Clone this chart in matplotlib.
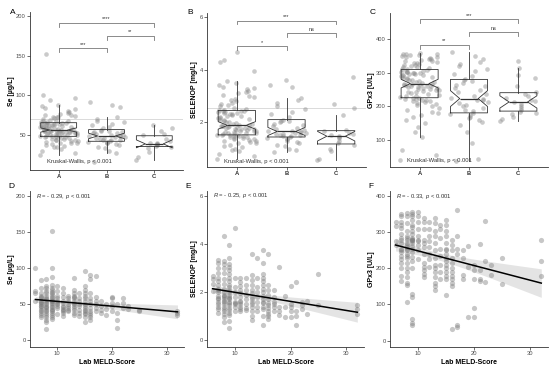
import numpy as np
import matplotlib
matplotlib.use('Agg')
import matplotlib.pyplot as plt

plt.rcParams['font.family'] = ['Liberation Sans', 'DejaVu Sans']
plt.rcParams['mathtext.fontset'] = 'custom'
plt.rcParams['mathtext.it'] = 'Liberation Sans:italic'
plt.rcParams['mathtext.rm'] = 'Liberation Sans'

# ---- top row: values per group (A, B, C) ----
groups = ['A', 'B', 'C']

se_a = [25, 27, 30, 32, 34, 35, 36, 37, 38, 39, 40, 40, 41, 42, 42, 43, 44, 44, 45, 45, 46, 46, 47, 47, 47, 48,
        48, 48, 49, 49, 50, 50, 50, 51, 51, 51, 52, 52, 52, 53, 53, 53, 54, 54, 54, 54, 55, 55, 55, 55, 55, 56,
        56, 56, 57, 57, 57, 58, 58, 58, 59, 59, 60, 60, 60, 61, 61, 62, 62, 62, 63, 63, 63, 64, 64, 65, 65, 65,
        66, 66, 67, 68, 68, 69, 70, 71, 72, 72, 73, 74, 75, 75, 76, 78, 79, 80, 82, 84, 86, 88, 94, 97, 100, 152]
se_b = [15, 27, 30, 33, 35, 37, 38, 39, 40, 41, 41, 42, 43, 44, 44, 45, 46, 46, 47, 47, 48, 48, 49,
        50, 50, 51, 52, 52, 53, 54, 55, 55, 56, 58, 60, 62, 64, 66, 68, 70, 73, 85, 88, 91]
se_c = [18, 22, 28, 33, 35, 36, 37, 38, 38, 39, 40, 42, 45, 50, 51, 55, 59, 62]

sel_a = [0.6, 0.7, 0.8, 0.9, 0.95, 1.0, 1.05, 1.1, 1.15, 1.2, 1.22, 1.25, 1.28, 1.3, 1.32, 1.35, 1.38, 1.4,
         1.42, 1.44, 1.45, 1.46, 1.48, 1.49, 1.5, 1.5,
         1.52, 1.53, 1.55, 1.56, 1.58, 1.6, 1.61, 1.62, 1.64, 1.65, 1.67, 1.68, 1.7, 1.72, 1.73, 1.75, 1.76,
         1.78, 1.8, 1.8, 1.82, 1.83, 1.84, 1.85, 1.86, 1.87,
         1.88, 1.9, 1.92, 1.95, 1.98, 2.0, 2.02, 2.05, 2.08, 2.1, 2.12, 2.15, 2.18, 2.2, 2.22, 2.25, 2.27, 2.3,
         2.32, 2.34, 2.36, 2.38, 2.4, 2.41, 2.42, 2.43,
         2.45, 2.48, 2.5, 2.55, 2.6, 2.65, 2.7, 2.75, 2.8, 2.85, 2.9, 2.95, 3.0, 3.05, 3.1, 3.15, 3.2, 3.25,
         3.3, 3.35, 3.42, 3.5, 3.58, 3.95, 4.3, 4.35, 4.65]
sel_b = [0.86, 0.95, 1.0, 1.1, 1.15, 1.2, 1.25, 1.3, 1.35, 1.38, 1.42, 1.44, 1.46, 1.48, 1.5, 1.52, 1.54,
         1.56, 1.58, 1.6, 1.62, 1.63, 1.65, 1.68, 1.7, 1.75, 1.8, 1.85, 1.9, 1.95, 2.0, 2.03, 2.05,
         2.1, 2.2, 2.3, 2.4, 2.5, 2.6, 2.75, 2.85, 2.93, 3.35, 3.4, 3.6]
sel_c = [0.58, 0.62, 0.9, 1.0, 1.15, 1.2, 1.3, 1.4, 1.45, 1.47, 1.5, 1.55, 1.6, 1.66, 1.7, 2.28, 2.55, 2.7, 3.72]

gpx_a = [40, 55, 70, 108, 125, 140, 150, 160, 170, 175, 180, 185, 190, 195, 200, 205, 208, 210, 213, 215,
         217, 219, 220, 222, 223, 224,
         226, 228, 230, 232, 235, 238, 240, 242, 244, 246, 248, 250, 252, 253, 255, 256, 258, 259, 260, 261,
         262, 263, 264, 265, 266, 267,
         268, 270, 272, 274, 276, 278, 280, 282, 284, 286, 288, 290, 292, 294, 295, 296, 298, 299, 300, 301,
         302, 303, 304, 305, 306, 308,
         310, 312, 314, 316, 318, 320, 322, 324, 326, 328, 330, 332, 334, 336, 338, 340, 342, 344, 346, 348,
         350, 352, 354, 355, 356, 357, 358]
gpx_b = [38, 45, 90, 125, 145, 155, 160, 165, 170, 175, 178, 182, 186, 190, 195, 200, 205, 210, 214, 218,
         220, 222, 225, 230, 236, 242, 248, 254, 260, 265, 270, 275, 280, 282, 290, 298, 305, 312, 320, 326,
         332, 340, 350, 362]
gpx_c = [158, 162, 170, 178, 182, 185, 190, 196, 202, 208, 212, 215, 220, 225, 232, 238, 242, 260, 285,
         295, 315, 335]

# ---- bottom row: Lab MELD-Score vs. marker (same patients) ----
meld = [6, 6, 6, 6,
        7, 7, 7, 7, 7, 7, 7, 7, 7, 7, 7, 7, 7, 7, 7, 7, 7, 7,
        8, 8, 8, 8, 8, 8, 8, 8, 8, 8, 8, 8, 8, 8, 8, 8, 8, 8, 8, 8, 8, 8,
        9, 9, 9, 9, 9, 9, 9, 9, 9, 9, 9, 9, 9, 9, 9, 9, 9, 9, 9, 9, 9, 9, 9, 9, 9,
        10, 10, 10, 10, 10, 10, 10, 10, 10, 10,
        11, 11, 11, 11, 11, 11, 11, 11, 11, 11, 11, 11,
        12, 12, 12, 12, 12, 12, 12, 12,
        13, 13, 13, 13, 13, 13, 13, 13, 13, 13, 13, 13, 13, 13,
        14, 14, 14, 14, 14, 14, 14, 14,
        15, 15, 15, 15, 15, 15, 15, 15, 15, 15, 15, 15, 15, 15, 15, 15,
        16, 16, 16, 16, 16, 16, 16, 16, 16, 16, 16, 16,
        17, 17, 17, 17, 17, 17,
        18, 18, 18, 18,
        19, 19, 19,
        20, 20, 20, 20, 20,
        21, 21, 21, 21,
        22, 22, 22,
        23, 23,
        25, 25,
        32, 32, 32]
se_meld = [100, 68, 65, 55,
           83, 72, 65, 60, 55, 52, 50, 48, 45, 42, 40, 38, 35, 32, 58, 62, 47, 53,
           85, 75, 72, 68, 65, 62, 58, 55, 52, 50, 48, 45, 42, 40, 38, 35, 32, 28, 25, 15, 57, 46,
           152, 100, 88, 77, 72, 70, 67, 65, 63, 60, 58, 56, 54, 52, 50, 48, 46, 44, 42, 40, 38, 35, 32, 30, 55,
           75, 68, 62, 58, 55, 52, 50, 48, 45, 36,
           72, 65, 60, 55, 52, 48, 46, 44, 42, 40, 38, 33,
           62, 58, 55, 50, 48, 45, 42, 40,
           87, 70, 65, 62, 60, 58, 55, 52, 50, 48, 45, 42, 38, 35,
           65, 58, 55, 50, 47, 42, 38, 33,
           96, 75, 70, 65, 62, 58, 55, 50, 45, 42, 40, 38, 36, 32, 25, 48,
           91, 85, 65, 58, 55, 50, 45, 40, 38, 35, 32, 28,
           89, 60, 55, 50, 45, 40,
           55, 48, 42, 38,
           50, 44, 35,
           60, 58, 52, 48, 40,
           50, 38, 28, 17,
           58, 52, 45,
           47, 44,
           42, 40,
           41, 38, 35]
sel_meld = [2.65, 2.55, 2.35, 2.05,
            3.35, 3.2, 3.0, 2.8, 2.6, 2.45, 2.3, 2.15, 2.0, 1.85, 1.7, 1.6, 1.5, 1.4, 1.3, 1.15, 1.75, 2.1,
            4.35, 3.3, 3.15, 3.0, 2.8, 2.55, 2.35, 2.15, 2.0, 1.9, 1.8, 1.7, 1.6, 1.5, 1.4, 1.3, 1.2, 1.1, 0.95,
            0.75, 1.65, 1.85,
            3.95, 3.4, 3.15, 3.05, 2.9, 2.75, 2.6, 2.45, 2.3, 2.2, 2.1, 2.0, 1.9, 1.8, 1.7, 1.6, 1.55, 1.45, 1.35,
            1.25, 1.15, 1.05, 0.8, 0.5, 1.75,
            4.65, 2.6, 2.2, 2.0, 1.8, 1.6, 1.5, 1.4, 1.2, 1.55,
            2.6, 2.4, 2.25, 2.1, 1.95, 1.8, 1.65, 1.5, 1.4, 1.3, 1.2, 1.6,
            2.6, 2.3, 2.1, 1.9, 1.7, 1.5, 1.35, 1.25,
            3.6, 2.7, 2.5, 2.3, 2.1, 1.95, 1.8, 1.7, 1.6, 1.5, 1.4, 1.2, 1.0, 0.85,
            3.4, 2.6, 2.2, 2.0, 1.8, 1.6, 1.4, 1.2,
            3.75, 3.2, 2.75, 2.6, 2.45, 2.3, 2.15, 2.0, 1.85, 1.7, 1.55, 1.4, 1.3, 1.0, 0.65, 1.6,
            3.6, 2.3, 2.1, 1.9, 1.7, 1.55, 1.45, 1.35, 1.2, 1.1, 1.0, 0.9,
            2.1, 1.8, 1.6, 1.4, 1.2, 1.5,
            3.05, 1.4, 1.2, 1.05,
            1.85, 1.4, 0.95,
            2.25, 1.5, 1.4, 1.2, 0.95,
            2.4, 1.2, 1.0, 0.65,
            1.6, 1.45, 1.3,
            1.65, 1.1,
            2.75, 1.45,
            1.45, 1.3, 1.1]
gpx_meld = [330, 318, 275, 265,
            352, 345, 330, 312, 295, 280, 270, 255, 245, 235, 225, 215, 200, 180, 165, 320, 285, 250,
            355, 345, 325, 305, 290, 280, 270, 260, 250, 240, 235, 228, 215, 200, 190, 175, 160, 155, 108, 285,
            265, 255,
            358, 352, 345, 335, 320, 305, 295, 285, 280, 278, 275, 270, 262, 255, 245, 232, 220, 200, 130, 120,
            60, 50, 42, 282, 315,
            357, 345, 330, 310, 290, 275, 265, 250, 225, 280,
            340, 328, 310, 280, 260, 240, 215, 205, 195, 185, 175, 270,
            330, 310, 290, 275, 260, 240, 225, 205,
            340, 325, 305, 290, 270, 250, 230, 210, 200, 190, 175, 160, 150, 140,
            320, 310, 285, 255, 235, 210, 190, 170,
            335, 320, 305, 290, 270, 255, 240, 230, 220, 210, 200, 190, 180, 170, 125, 250,
            280, 265, 250, 230, 215, 200, 190, 180, 170, 160, 150, 32,
            362, 290, 255, 240, 42, 38,
            251, 228, 181, 172,
            262, 205, 65,
            209, 195, 172, 91, 65,
            269, 195, 172, 165,
            332, 221, 163,
            209, 181,
            228, 157,
            279, 220, 180]

W, H = 550, 367
fig = plt.figure(figsize=(5.5, 3.67), dpi=100)


def add_ax(l, r, t, b):
    return fig.add_axes([l / W, 1 - b / H, (r - l) / W, (b - t) / H])


def style(ax):
    for s in ['top', 'right']:
        ax.spines[s].set_visible(False)
    for s in ['left', 'bottom']:
        ax.spines[s].set_color('#333333')
        ax.spines[s].set_linewidth(0.6)
    ax.tick_params(labelsize=4.2, length=2, width=0.5, pad=1, colors='#333333', labelcolor='#4d4d4d')


def place_ylabel(ax, label, px):
    # put the y label a fixed number of pixels left of the spine
    ax.set_ylabel(label, fontsize=5, fontweight='bold')
    w = ax.get_position().width * W
    ax.yaxis.set_label_coords(-px / w, 0.5)


def bracket(ax, x1, x2, y, h, label):
    ax.plot([x1, x1, x2, x2], [y - h, y, y, y - h], color='#777777', lw=0.6)
    ax.text((x1 + x2) / 2, y + h * 0.4, label, ha='center', va='bottom', fontsize=4, color='#333333')


def box_panel(ax, data, ylim, yticks, ylabel, ref, brackets, kw_y, letter, lab_px):
    style(ax)
    for i, vals in enumerate(data):
        v = np.array(vals)
        k = np.arange(len(v))
        # fixed pseudo-random jitter (positions only)
        jit = ((np.sin(k * 12.9898 + i * 78.233) * 43758.5453) % 1 - 0.5) * 0.8
        ax.scatter(i + 1 + jit, v, s=11, color='#8a8a8a', alpha=0.45, lw=0, zorder=2)
    lp = dict(color='#333333', lw=0.6)
    ax.boxplot(data, positions=[1, 2, 3], widths=0.75, notch=True, showfliers=False, showcaps=False,
               boxprops=lp, whiskerprops=lp, medianprops=dict(color='#333333', lw=0.9), zorder=3)
    if ref is not None:
        ax.axhline(ref, color='#d4d4d4', lw=0.6, zorder=1)
    h = (ylim[1] - ylim[0]) * 0.025
    for x1, x2, y, lab in brackets:
        bracket(ax, x1, x2, y, h, lab)
    ax.text(0.75, kw_y, 'Kruskal-Wallis, p < 0.001', fontsize=4.2, color='#333333', va='center')
    ax.set_xlim(0.4, 3.6)
    ax.set_ylim(*ylim)
    ax.set_yticks(yticks)
    ax.set_xticks([1, 2, 3])
    ax.set_xticklabels(groups, fontweight='bold', color='#333333')
    place_ylabel(ax, ylabel, lab_px)
    fig.text(ax.get_position().x0 - 20 / W, ax.get_position().y1, letter, fontsize=6, va='center')


def scatter_panel(ax, x, y, ylim, yticks, ylabel, rtext, ry, letter, lab_px):
    style(ax)
    x = np.array(x, dtype=float)
    y = np.array(y, dtype=float)
    ax.scatter(x, y, s=14, color='#7a7a7a', alpha=0.42, lw=0, zorder=2)
    b1, b0 = np.polyfit(x, y, 1)
    xs = np.linspace(x.min(), x.max(), 100)
    yh = b0 + b1 * xs
    n = len(x)
    s = np.sqrt(np.sum((y - (b0 + b1 * x)) ** 2) / (n - 2))
    se = s * np.sqrt(1 / n + (xs - x.mean()) ** 2 / np.sum((x - x.mean()) ** 2))
    ax.fill_between(xs, yh - 1.97 * se, yh + 1.97 * se, color='#d9d9d9', alpha=0.7, lw=0, zorder=1)
    ax.plot(xs, yh, color='black', lw=1.1, zorder=3)
    ax.text(6.1, ry, rtext, fontsize=4.2, color='#333333', va='center')
    ax.set_xlim(5, 33.2)
    ax.set_xticks([10, 20, 30])
    ax.set_ylim(*ylim)
    ax.set_yticks(yticks)
    ax.set_xlabel('Lab MELD-Score', fontsize=5, fontweight='bold', labelpad=2)
    place_ylabel(ax, ylabel, lab_px)
    fig.text(ax.get_position().x0 - 22 / W, ax.get_position().y1 + 5 / H, letter, fontsize=6, va='center')


axA = add_ax(30, 183, 12, 170)
box_panel(axA, [se_a, se_b, se_c], (5.5, 205), [50, 100, 150, 200], 'Se [µg/L]', 70,
          [(1, 2, 159, '***'), (2, 3, 175, '**'), (1, 3, 191, '****')], 16, 'A', 15)

axB = add_ax(207, 366, 13, 167)
box_panel(axB, [sel_a, sel_b, sel_c], (0.3, 6.15), [2, 4, 6], 'SELENOP [mg/L]', 2.55,
          [(1, 2, 4.88, '*'), (2, 3, 5.38, 'ns'), (1, 3, 5.86, '***')], 0.5, 'B', 9)

axC = add_ax(390, 548, 13, 167)
box_panel(axC, [gpx_a, gpx_b, gpx_c], (20, 478), [100, 200, 300, 400], 'GPx3 [U/L]', None,
          [(1, 2, 383, '**'), (2, 3, 421, 'ns'), (1, 3, 459, '***')], 40, 'C', 15)

axD = add_ax(30, 184, 191, 347)
scatter_panel(axD, meld, se_meld, (-9.3, 207), [0, 50, 100, 150, 200], 'Se [µg/L]',
              r'$\it{R}$ = - 0.29, $\it{p}$ < 0.001', 200, 'D', 15)

axE = add_ax(207, 364, 191, 347)
scatter_panel(axE, meld, sel_meld, (-0.28, 6.2), [0, 2, 4, 6], 'SELENOP [mg/L]',
              r'$\it{R}$ = - 0.25, $\it{p}$ < 0.001', 6.0, 'E', 9)

axF = add_ax(390, 548, 191, 347)
scatter_panel(axF, meld, gpx_meld, (-18, 415), [0, 100, 200, 300, 400], 'GPx3 [U/L]',
              r'$\it{R}$ = - 0.33, $\it{p}$ < 0.001', 400, 'F', 15)

fig.savefig('out.png', dpi=100)
